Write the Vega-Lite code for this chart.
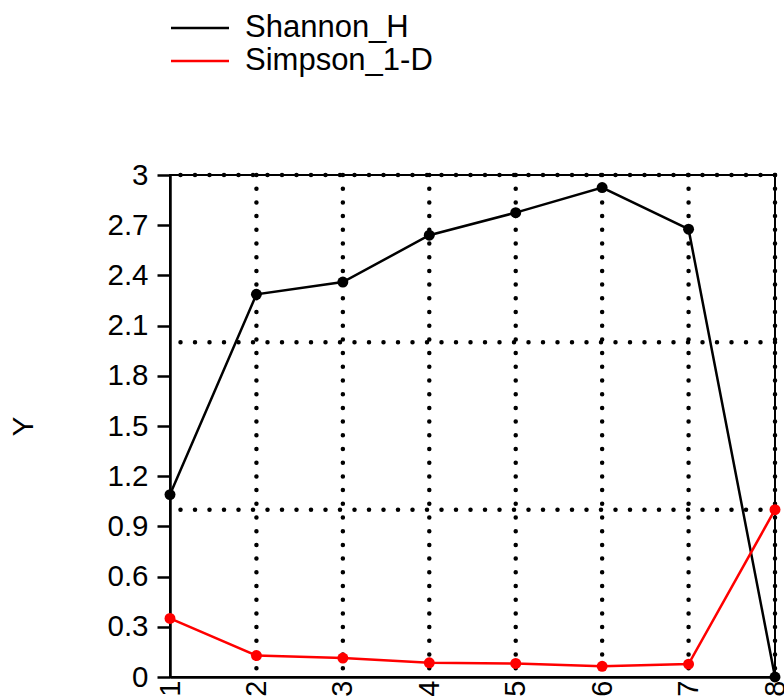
{
  "$schema": "https://vega.github.io/schema/vega-lite/v6.json",
  "width": 605,
  "height": 502,
  "autosize": {"type": "none"},
  "padding": {"left": 170, "top": 175, "right": 9, "bottom": 22},
  "background": "white",
  "config": {
    "font": "Liberation Sans",
    "view": {"stroke": "black", "strokeWidth": 2},
    "axis": {"labelFont": "Liberation Sans", "titleFont": "Liberation Sans", "labelColor": "black", "titleColor": "black", "domainColor": "black", "tickColor": "black"}
  },
  "datasets": {
    "series": [
      {"x": 1, "series": "Shannon_H", "value": 1.09},
      {"x": 2, "series": "Shannon_H", "value": 2.287},
      {"x": 3, "series": "Shannon_H", "value": 2.36},
      {"x": 4, "series": "Shannon_H", "value": 2.64},
      {"x": 5, "series": "Shannon_H", "value": 2.775},
      {"x": 6, "series": "Shannon_H", "value": 2.925},
      {"x": 7, "series": "Shannon_H", "value": 2.676},
      {"x": 8, "series": "Shannon_H", "value": 0},
      {"x": 1, "series": "Simpson_1-D", "value": 0.35},
      {"x": 2, "series": "Simpson_1-D", "value": 0.128},
      {"x": 3, "series": "Simpson_1-D", "value": 0.113},
      {"x": 4, "series": "Simpson_1-D", "value": 0.085},
      {"x": 5, "series": "Simpson_1-D", "value": 0.081},
      {"x": 6, "series": "Simpson_1-D", "value": 0.064},
      {"x": 7, "series": "Simpson_1-D", "value": 0.077},
      {"x": 8, "series": "Simpson_1-D", "value": 1.0}
    ],
    "hgrid": [{"v": 1}, {"v": 2}, {"v": 3}],
    "vgrid": [{"v": 2}, {"v": 3}, {"v": 4}, {"v": 5}, {"v": 6}, {"v": 7}, {"v": 8}]
  },
  "layer": [
    {
      "data": {"name": "hgrid"},
      "mark": {"type": "rule", "color": "black", "strokeWidth": 4.5, "strokeDash": [0, 14.5], "strokeCap": "round"},
      "encoding": {
        "y": {"field": "v", "type": "quantitative", "scale": {"domain": [0, 3], "nice": false}}
      }
    },
    {
      "data": {"name": "vgrid"},
      "mark": {"type": "rule", "color": "black", "strokeWidth": 4.5, "strokeDash": [0, 13.7], "strokeCap": "round"},
      "encoding": {
        "x": {"field": "v", "type": "quantitative", "scale": {"domain": [1, 8], "nice": false}}
      }
    },
    {
      "data": {"name": "series"},
      "mark": {"type": "line", "strokeWidth": 2.5},
      "encoding": {
        "x": {"field": "x", "type": "quantitative", "scale": {"domain": [1, 8], "nice": false},
          "axis": {"title": null, "values": [1, 2, 3, 4, 5, 6, 7, 8], "format": "d", "labelAngle": -90, "labelFontSize": 29, "labelPadding": 3, "ticks": false, "domainWidth": 2.5,
            "grid": false, "labelFlush": false}},
        "y": {"field": "value", "type": "quantitative", "scale": {"domain": [0, 3], "nice": false},
          "axis": {"title": "Y", "values": [0, 0.3, 0.6, 0.9, 1.2, 1.5, 1.8, 2.1, 2.4, 2.7, 3], "format": ".1~f", "grid": false, "labelFontSize": 29.5, "tickSize": 13, "tickWidth": 2.5, "domainWidth": 2.5, "labelPadding": 9, "labelFlush": false,
            "titleFontSize": 30, "titleFontWeight": "normal", "titlePadding": 68}},
        "color": {"field": "series", "type": "nominal", "scale": {"domain": ["Shannon_H", "Simpson_1-D"], "range": ["black", "#ff0000"]},
          "legend": {"title": null, "orient": "none", "legendX": 14, "legendY": -163, "symbolType": "M-2,0L2,0", "symbolSize": 841, "symbolStrokeWidth": 2.5, "labelFontSize": 31, "labelFont": "Liberation Sans", "labelOffset": 29, "labelLimit": 0, "rowPadding": 2, "labelColor": "black"}}
      }
    },
    {
      "data": {"name": "series"},
      "mark": {"type": "point", "filled": true, "opacity": 1, "size": 120},
      "encoding": {
        "x": {"field": "x", "type": "quantitative"},
        "y": {"field": "value", "type": "quantitative"},
        "color": {"field": "series", "type": "nominal", "legend": null}
      }
    }
  ]
}
